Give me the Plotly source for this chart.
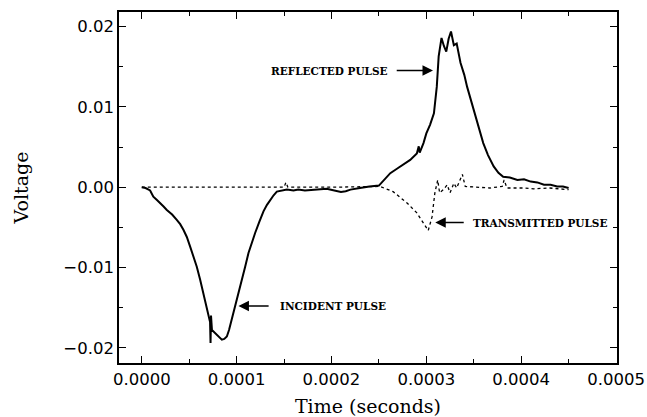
import plotly.graph_objects as go

# Incident + reflected pulse (one channel)
t_main = [0, 4e-6, 8.8e-6, 1.22e-5, 1.6e-5, 1.9e-5, 2.3e-5, 2.64e-5, 3.2e-5, 3.69e-5,
          4.05e-5, 4.39e-5, 4.75e-5, 5.1e-5, 5.45e-5, 5.8e-5, 6.15e-5, 6.5e-5, 6.86e-5, 7.2e-5,
          7.25e-5, 7.3e-5, 7.4e-5, 7.73e-5, 8.1e-5, 8.44e-5, 8.7e-5, 8.97e-5, 9.2e-5, 9.49e-5,
          9.75e-5, 1.0e-4, 1.03e-4, 1.055e-4, 1.09e-4, 1.125e-4, 1.16e-4, 1.195e-4, 1.24e-4, 1.283e-4,
          1.32e-4, 1.353e-4, 1.39e-4, 1.424e-4, 1.48e-4, 1.53e-4, 1.6e-4, 1.65e-4, 1.72e-4, 1.8e-4,
          1.88e-4, 1.95e-4, 2.03e-4, 2.1e-4, 2.15e-4, 2.2e-4, 2.3e-4, 2.4e-4, 2.5e-4, 2.55e-4,
          2.62e-4, 2.69e-4, 2.76e-4, 2.83e-4, 2.9e-4, 2.92e-4, 2.93e-4, 2.97e-4, 3.0e-4, 3.04e-4,
          3.08e-4, 3.11e-4, 3.13e-4, 3.16e-4, 3.185e-4, 3.21e-4, 3.235e-4, 3.26e-4, 3.29e-4, 3.32e-4,
          3.36e-4, 3.4e-4, 3.43e-4, 3.48e-4, 3.52e-4, 3.56e-4, 3.6e-4, 3.65e-4, 3.71e-4, 3.76e-4,
          3.81e-4, 3.88e-4, 3.96e-4, 4.03e-4, 4.1e-4, 4.17e-4, 4.24e-4, 4.31e-4, 4.38e-4, 4.44e-4,
          4.5e-4]
v_main = [0, -0.0001, -0.0004, -0.00117, -0.0016, -0.0020, -0.0024, -0.00283, -0.0034, -0.00407,
          -0.0046, -0.0053, -0.0062, -0.0074, -0.0086, -0.0099, -0.0115, -0.0132, -0.0152, -0.0168,
          -0.0194, -0.0160, -0.0178, -0.0182, -0.0186, -0.0190, -0.0189, -0.0186, -0.0178, -0.0165,
          -0.0153, -0.0140, -0.0128, -0.0116, -0.0099, -0.0082, -0.0069, -0.0057, -0.0043, -0.0030,
          -0.0022, -0.0016, -0.0010, -0.00055, -0.0004, -0.0003, -0.0004, -0.0003, -0.0004, -0.0003,
          -0.0002, -0.0002, -0.0004, -0.0006, -0.0005, -0.0003, -0.0001, 0.0001, 0.0002, 0.0008,
          0.00175, 0.0023, 0.0028, 0.0034, 0.0042, 0.0051, 0.0043, 0.0055, 0.0067, 0.0078,
          0.0092, 0.0125, 0.0163, 0.0186, 0.0176, 0.0169, 0.0185, 0.0194, 0.0177, 0.0179,
          0.0155, 0.0140, 0.0125, 0.0105, 0.0088, 0.0071, 0.0055, 0.0040, 0.0026, 0.0018,
          0.0013, 0.0012, 0.0009, 0.0010, 0.0007, 0.0006, 0.0003, 0.0003, 0.0001, 0.0001,
          -0.0001]

# Transmitted pulse
t_trans = [0, 5e-5, 1e-4, 1.5e-4, 1.52e-4, 1.54e-4, 2.0e-4, 2.45e-4, 2.51e-4, 2.65e-4,
           2.8e-4, 2.9e-4, 2.99e-4, 3.02e-4, 3.06e-4, 3.09e-4, 3.12e-4, 3.14e-4, 3.18e-4, 3.22e-4,
           3.25e-4, 3.29e-4, 3.32e-4, 3.38e-4, 3.41e-4, 3.53e-4, 3.67e-4, 3.8e-4, 3.82e-4, 3.85e-4,
           4.03e-4, 4.13e-4, 4.3e-4, 4.5e-4]
v_trans = [0, 0.0, 0.0, 0.0, 0.0006, 0.0, 0.0, 0.0001, 0.0001, -0.00055,
           -0.002, -0.0032, -0.0049, -0.0054, -0.0037, -0.0007, 0.0009, -0.0007, -0.0003, 0.0003,
           -0.0007, 0.0005, -0.0001, 0.0016, 0.0001, 0.0, -0.0001, 0.0001, 0.0009, -0.0001,
           -0.0001, -0.0002, -0.0001, -0.0003]

labels = ["REFLECTED PULSE", "TRANSMITTED PULSE", "INCIDENT PULSE"]
label_x = [2.62e-4, 3.47e-4, 1.435e-4]
label_y = [0.01453, -0.00441, -0.01479]
label_anchor = ["right", "left", "left"]
arrow_tail_x = [2.672e-4, 3.41e-4, 1.353e-4]
arrow_tip_x = [3.07e-4, 3.094e-4, 1.019e-4]

x_tickvals = [0, 0.0001, 0.0002, 0.0003, 0.0004, 0.0005]
y_tickvals = [-0.02, -0.01, 0.0, 0.01, 0.02]

fig = go.Figure()
fig.add_trace(go.Scatter(x=t_main, y=v_main, mode="lines",
                         line=dict(color="black", width=2), showlegend=False))
fig.add_trace(go.Scatter(x=t_trans, y=v_trans, mode="lines",
                         line=dict(color="black", width=1.3, dash="dot"), showlegend=False))

for txt, lx, ly, anc, tx, hx in zip(labels, label_x, label_y, label_anchor, arrow_tail_x, arrow_tip_x):
    fig.add_annotation(x=lx, y=ly, text=txt, showarrow=False, xanchor=anc, yanchor="middle",
                       font=dict(family="DejaVu Serif", size=10.5, color="black", weight="bold"))
    fig.add_annotation(x=hx, y=ly, ax=tx, ay=ly, axref="x", ayref="y", xref="x", yref="y",
                       text="", showarrow=True, arrowhead=2, arrowsize=1.4, arrowwidth=1.5,
                       arrowcolor="black")

axis_common = dict(showline=True, linecolor="black", linewidth=1.5, mirror="ticks",
                   ticks="inside", ticklen=7, tickwidth=1, tickcolor="black",
                   showgrid=False, zeroline=False, automargin=False,
                   tickfont=dict(family="DejaVu Sans", size=16.5, color="black"))

fig.update_xaxes(range=[-2.4e-5, 5.01e-4], tickvals=x_tickvals, tickformat=".4f",
                 minor=dict(ticks="inside", ticklen=4, dtick=0.00005, tick0=0, tickcolor="black"),
                 title=dict(text="Time (seconds)", font=dict(family="DejaVu Serif", size=19, color="black"),
                            standoff=14),
                 **axis_common)
fig.update_yaxes(range=[-0.0219, 0.02183], tickvals=y_tickvals, tickformat=".2f",
                 minor=dict(ticks="inside", ticklen=4, dtick=0.005, tick0=0, tickcolor="black"),
                 title=dict(text="Voltage", font=dict(family="DejaVu Serif", size=19, color="black"),
                            standoff=30),
                 **axis_common)

fig.update_layout(width=647, height=417, margin=dict(l=119, r=30, t=12, b=54),
                  plot_bgcolor="white", paper_bgcolor="white")

fig.write_html("out.html", config={"displayModeBar": False},
               post_script="document.body.style.margin='0';document.body.style.overflow='hidden';")
